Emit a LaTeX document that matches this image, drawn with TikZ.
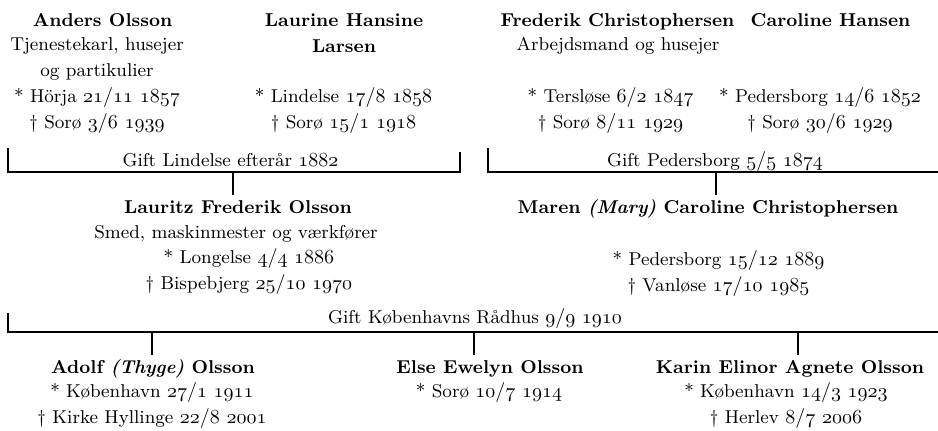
\documentclass[tikz,border=0pt]{standalone}
\usepackage{fontspec}
\newcommand\famfont{\fontsize{9.3}{13}\selectfont}
\newcommand\dt[1]{{\fontsize{10}{13}\selectfont$\mathnormal{#1}$}}
\tikzset{
  txt/.style={anchor=north, inner sep=0pt, align=center, font=\famfont, execute at begin node=\strut},
  person/.style={txt, font=\famfont\bfseries},
  tie/.style={line width=1.2pt},
}
\begin{document}
\famfont
\begin{tikzpicture}[x=0.5pt,y=-0.5pt]
    \useasboundingbox (0,0) rectangle (938,431);
    % grandparents
    \node[person] (anders) at (102.5,8.3) {Anders Olsson};
    \node[txt] (andersinfo) at (97,32.3) {\strut Tjenestekarl, husejer\\og partikulier\\* Hörja \dt{21/11\ 1857}\\† Sorø \dt{3/6\ 1939}};
    \node[person] (laurine) at (344,8.3) {\strut Laurine Hansine\\Larsen};
    \node[txt] (laurineinfo) at (343.5,83.8) {\strut * Lindelse \dt{17/8\ 1858}\\† Sorø \dt{15/1\ 1918}};
    \node[person] (frederik) at (617.5,8.3) {Frederik Christophersen};
    \node[txt] (frederikjob) at (618,32.3) {Arbejdsmand og husejer};
    \node[txt] (frederikinfo) at (610.5,83.8) {\strut * Tersløse \dt{6/2\ 1847}\\† Sorø \dt{8/11\ 1929}};
    \node[person] (caroline) at (830.5,8.3) {Caroline Hansen};
    \node[txt] (carolineinfo) at (820,83.8) {\strut * Pedersborg \dt{14/6\ 1852}\\† Sorø \dt{30/6\ 1929}};
    % first marriages
    \coordinate (m1a) at (8,148);
    \coordinate (m1b) at (460,172);
    \coordinate (m1c) at (460,152);
    \draw[tie] (m1a) |- (m1b) -- (m1c);
    \node[txt] (gift1) at (230.5,147.8) {Gift Lindelse efterår \dt{1882}};
    \coordinate (m2a) at (488,148);
    \coordinate (m2b) at (938,172);
    \draw[tie] (m2a) |- (m2b);
    \node[txt] (gift2) at (715,147.8) {Gift Pedersborg \dt{5/5\ 1874}};
    % parents
    \node[person] (lauritz) at (238,194.8) {Lauritz Frederik Olsson};
    \node[txt] (lauritzjob) at (236,219.8) {Smed, maskinmester og værkfører};
    \node[txt] (lauritzinfo) at (249,244.8) {\strut * Longelse \dt{4/4\ 1886}\\† Bispebjerg \dt{25/10\ 1970}};
    \node[person] (maren) at (708,194.8) {Maren \textit{(Mary)} Caroline Christophersen};
    \node[txt] (mareninfo) at (718.5,246.8) {\strut * Pedersborg \dt{15/12\ 1889}\\† Vanløse \dt{17/10\ 1985}};
    \coordinate (k1) at (233,172);
    \coordinate (k2) at (716,172);
    \draw[tie] (k1) -- (k1 |- lauritz.north);
    \draw[tie] (k2) -- (k2 |- maren.north);
    % marriage of the parents
    \coordinate (m3a) at (8,313);
    \coordinate (m3b) at (938,332);
    \draw[tie] (m3a) |- (m3b);
    \node[txt] (gift3) at (475,304.8) {Gift Københavns Rådhus \dt{9/9\ 1910}};
    % children
    \node[person] (adolf) at (153,354.8) {Adolf \textit{(Thyge)} Olsson};
    \node[txt] (adolfinfo) at (152,379.3) {\strut * København \dt{27/1\ 1911}\\† Kirke Hyllinge \dt{22/8\ 2001}};
    \node[person] (else) at (490,354.8) {Else Ewelyn Olsson};
    \node[txt] (elseinfo) at (489,379.3) {* Sorø \dt{10/7\ 1914}};
    \node[person] (karin) at (790,354.8) {Karin Elinor Agnete Olsson};
    \node[txt] (karininfo) at (786,379.3) {\strut * København \dt{14/3\ 1923}\\† Herlev \dt{8/7\ 2006}};
    \foreach \c/\k in {152/adolf,474/else,798/karin} {
        \coordinate (k\k) at (\c,332);
        \draw[tie] (k\k) -- (k\k |- \k.north);
    }
\end{tikzpicture}
\end{document}
